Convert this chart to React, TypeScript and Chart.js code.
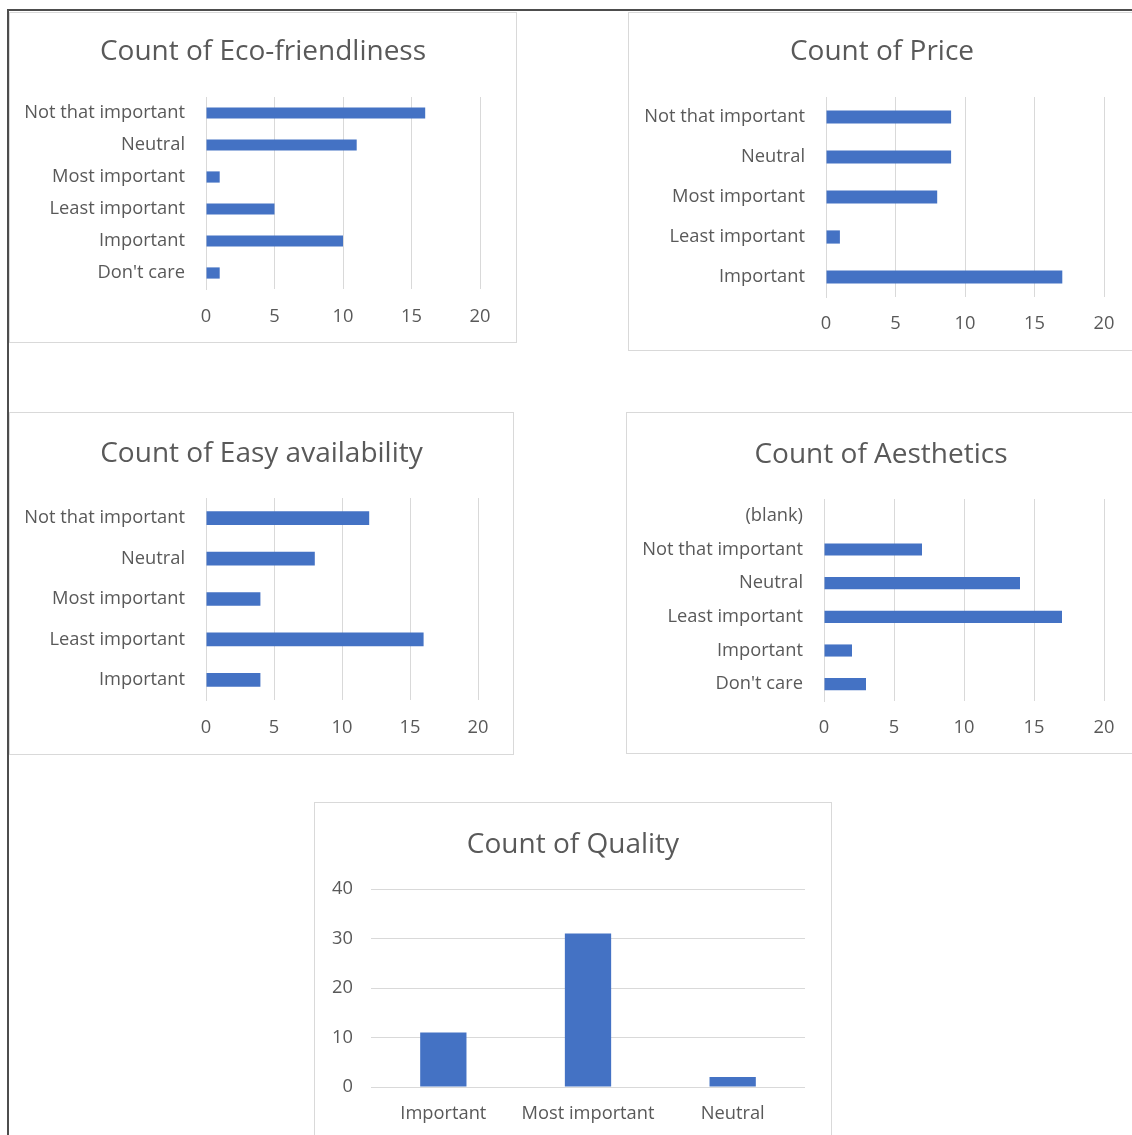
import React, { useEffect, useRef } from "react";
import { Chart, registerables } from "chart.js";

Chart.register(...registerables);

const FONT = "'Open Sans', 'Noto Sans', sans-serif";
const BAR_COLOR = "#4472C4";
const TEXT_COLOR = "#595959";
const GRID_COLOR = "#D9D9D9";
const TITLE_SIZE = 28;
const TICK_SIZE = 18.3;

// Survey answers, listed top to bottom as they appear on each chart
const ecoLabels = ["Not that important", "Neutral", "Most important", "Least important", "Important", "Don't care"];
const ecoCounts = [16, 11, 1, 5, 10, 1];

const priceLabels = ["Not that important", "Neutral", "Most important", "Least important", "Important"];
const priceCounts = [9, 9, 8, 1, 17];

const availLabels = ["Not that important", "Neutral", "Most important", "Least important", "Important"];
const availCounts = [12, 8, 4, 16, 4];

const aestheticsLabels = ["(blank)", "Not that important", "Neutral", "Least important", "Important", "Don't care"];
const aestheticsCounts = [0, 7, 14, 17, 2, 3];

const qualityLabels = ["Important", "Most important", "Neutral"];
const qualityCounts = [11, 31, 2];

const countTicks = [0, 5, 10, 15, 20];
const qualityTicks = [0, 10, 20, 30, 40];

type Geometry = {
  left: number;
  top: number;
  width: number;
  height: number;
  axisX: number; // x of the value axis origin inside the panel
  plotRight: number;
  plotTop: number;
  plotBottom: number;
  titleCenter: number;
  tickCenter: number;
};

type PanelProps = Geometry & {
  title: string;
  labels: string[];
  values: number[];
  horizontal: boolean;
  ticks: number[];
  barPercentage: number;
  labelGap: number;
};

function ChartPanel(p: PanelProps) {
  const ref = useRef<HTMLCanvasElement | null>(null);

  useEffect(() => {
    if (!ref.current) return;
    const tickLH = TICK_SIZE * 1.2;
    const valueMin = p.ticks[0];
    const valueMax = p.ticks[p.ticks.length - 1];
    const step = p.ticks[1] - p.ticks[0];
    const tickFont = { family: FONT, size: TICK_SIZE };

    const valueScale: any = {
      type: "linear",
      min: valueMin,
      max: valueMax,
      ticks: {
        stepSize: step,
        color: TEXT_COLOR,
        font: tickFont,
        padding: p.horizontal ? p.tickCenter - p.plotBottom - tickLH / 2 : p.labelGap,
      },
      grid: { color: GRID_COLOR, lineWidth: 1, drawTicks: false },
      border: { display: false },
    };
    const categoryScale: any = {
      type: "category",
      ticks: {
        color: TEXT_COLOR,
        font: tickFont,
        autoSkip: false,
        maxRotation: 0,
        padding: p.horizontal ? p.labelGap : p.tickCenter - p.plotBottom - tickLH / 2,
      },
      grid: { display: false, drawTicks: false },
      border: { display: p.horizontal, color: GRID_COLOR, width: 1 },
    };

    const xScale = p.horizontal ? valueScale : categoryScale;
    const yScale = p.horizontal ? categoryScale : valueScale;
    xScale.afterFit = (s: any) => {
      s.height = p.height - p.plotBottom;
    };
    yScale.afterFit = (s: any) => {
      s.width = p.axisX;
    };

    const chart = new Chart(ref.current, {
      type: "bar",
      data: {
        labels: p.labels,
        datasets: [
          {
            data: p.values,
            backgroundColor: BAR_COLOR,
            borderWidth: 0,
            categoryPercentage: 1,
            barPercentage: p.barPercentage,
          },
        ],
      },
      options: {
        indexAxis: p.horizontal ? "y" : "x",
        responsive: false,
        animation: false,
        devicePixelRatio: 1,
        layout: { padding: { left: 0, top: p.plotTop, bottom: 0, right: p.width - p.plotRight } },
        plugins: {
          legend: { display: false },
          tooltip: { enabled: false },
          title: { display: false },
        },
        scales: { x: xScale, y: yScale },
      } as any,
    });
    return () => chart.destroy();
  }, []);

  return (
    <div
      style={{
        position: "absolute",
        left: p.left,
        top: p.top,
        width: p.width,
        height: p.height,
        background: "#fff",
      }}
    >
      <canvas ref={ref} width={p.width} height={p.height} style={{ display: "block" }} />
      <div
        style={{
          position: "absolute",
          left: 0,
          width: p.width,
          top: p.titleCenter - TITLE_SIZE * 0.7,
          height: TITLE_SIZE * 1.4,
          lineHeight: `${TITLE_SIZE * 1.4}px`,
          textAlign: "center",
          fontFamily: FONT,
          fontSize: TITLE_SIZE,
          color: TEXT_COLOR,
          whiteSpace: "nowrap",
        }}
      >
        {p.title}
      </div>
      <div
        style={{
          position: "absolute",
          inset: 0,
          border: `1px solid ${GRID_COLOR}`,
          boxSizing: "border-box",
          pointerEvents: "none",
        }}
      />
    </div>
  );
}

export default function App() {
  return (
    <div
      style={{
        position: "absolute",
        left: 0,
        top: 0,
        width: 1132,
        height: 1135,
        overflow: "hidden",
        background: "#fff",
      }}
    >
      <div
        style={{
          position: "absolute",
          left: 7,
          top: 9,
          width: 1200,
          height: 1200,
          borderTop: "2px solid #4d4d4d",
          borderLeft: "2px solid #4d4d4d",
        }}
      />
      <ChartPanel
        title="Count of Eco-friendliness"
        labels={ecoLabels}
        values={ecoCounts}
        horizontal
        ticks={countTicks}
        barPercentage={0.35}
        labelGap={21}
        left={9}
        top={12}
        width={508}
        height={331}
        axisX={197}
        plotRight={471}
        plotTop={85}
        plotBottom={277}
        titleCenter={38}
        tickCenter={305}
      />
      <ChartPanel
        title="Count of Price"
        labels={priceLabels}
        values={priceCounts}
        horizontal
        ticks={countTicks}
        barPercentage={0.33}
        labelGap={21}
        left={628}
        top={12}
        width={508}
        height={339}
        axisX={198}
        plotRight={476}
        plotTop={85}
        plotBottom={285}
        titleCenter={38}
        tickCenter={312}
      />
      <ChartPanel
        title="Count of Easy availability"
        labels={availLabels}
        values={availCounts}
        horizontal
        ticks={countTicks}
        barPercentage={0.34}
        labelGap={21}
        left={9}
        top={412}
        width={505}
        height={343}
        axisX={197}
        plotRight={469}
        plotTop={86}
        plotBottom={288}
        titleCenter={40}
        tickCenter={316}
      />
      <ChartPanel
        title="Count of Aesthetics"
        labels={aestheticsLabels}
        values={aestheticsCounts}
        horizontal
        ticks={countTicks}
        barPercentage={0.36}
        labelGap={21}
        left={626}
        top={412}
        width={510}
        height={342}
        axisX={198}
        plotRight={478}
        plotTop={87}
        plotBottom={289}
        titleCenter={41}
        tickCenter={316}
      />
      <ChartPanel
        title="Count of Quality"
        labels={qualityLabels}
        values={qualityCounts}
        horizontal={false}
        ticks={qualityTicks}
        barPercentage={0.32}
        labelGap={18}
        left={314}
        top={802}
        width={518}
        height={345}
        axisX={57}
        plotRight={491}
        plotTop={87}
        plotBottom={285}
        titleCenter={41}
        tickCenter={312}
      />
    </div>
  );
}
